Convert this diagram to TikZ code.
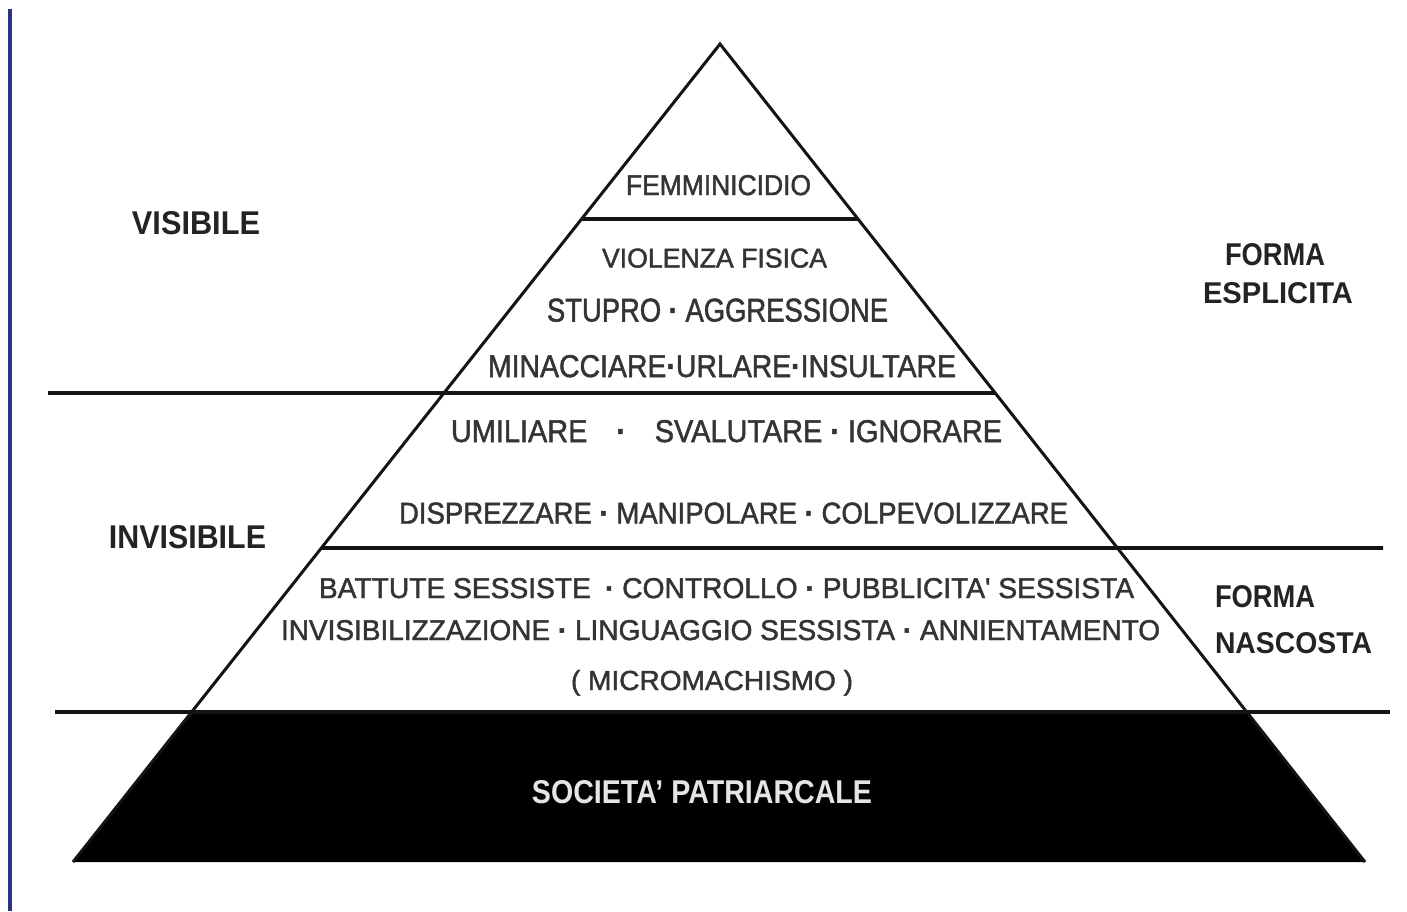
\documentclass[tikz,border=0pt]{standalone}
\usepackage{fontspec}
\setmainfont{Liberation Sans}
\newfontfamily\medfont[FakeBold=1.6]{Liberation Sans}
\usepackage{graphicx}
\usetikzlibrary{calc}
\definecolor{txtgray}{RGB}{52,52,52}
\definecolor{lblgray}{RGB}{35,35,35}
\definecolor{edgeblue}{RGB}{45,52,135}
\newcommand{\fitbox}[3]{\resizebox{#1pt}{#2pt}{#3}}
\newcommand{\sep}{\hbox{\textbf{·}}}
\begin{document}
\begin{tikzpicture}[x=1pt,y=-1pt,
  pyredge/.style={line width=3pt, black!92, line join=miter},
  cutline/.style={line width=3.6pt, black!92},
  lvltxt/.style={anchor=base, inner sep=0pt, text=txtgray, font=\medfont},
  sidetxt/.style={anchor=base, inner sep=0pt, text=lblgray, font=\bfseries},
  basetxt/.style={anchor=base, inner sep=0pt, text=white!90!black, font=\bfseries},
  frameline/.style={line width=4pt, edgeblue}]
\useasboundingbox (0,0) rectangle (1407,912);
\fill[white] (0,0) rectangle (1407,912);

% frame line on the left
\coordinate (ft) at (10,9);
\coordinate (fb) at (10,911);
\draw[frameline] (ft) -- (fb);

% pyramid corners
\coordinate (apex) at (720,44);
\coordinate (bl) at (73,862);
\coordinate (br) at (1365,862);

% cuts on the edges
\coordinate (c1l) at ($(apex)!0.2139!(bl)$);
\coordinate (c1r) at ($(apex)!0.2139!(br)$);
\coordinate (c2r) at ($(apex)!0.4267!(br)$);
\coordinate (c3l) at ($(apex)!0.6161!(bl)$);
\coordinate (c4l) at ($(apex)!0.8166!(bl)$);
\coordinate (c4r) at ($(apex)!0.8166!(br)$);
\coordinate (lv2) at (48,393);
\coordinate (rv3) at (1383,548);
\coordinate (lv4) at (55,712);
\coordinate (rv4) at (1390,712);

% black base
\fill[black] (c4l) -- (c4r) -- (br) -- (bl) -- cycle;

% outline and level lines
\draw[pyredge] (bl) -- (apex) -- (br);
\draw[cutline] (c1l) -- (c1r);
\draw[cutline] (lv2) -- (c2r);
\draw[cutline] (c3l) -- (rv3);
\draw[cutline] (lv4) -- (rv4);

% side labels
\node[sidetxt] (vis) at (196,234.5) {\fitbox{128}{23}{VISIBILE}};
\node[sidetxt] (invis) at (187.5,548.5) {\fitbox{157}{23}{INVISIBILE}};
\node[sidetxt] (forma1) at (1275,265) {\fitbox{100}{22}{FORMA}};
\node[sidetxt] (espl) at (1278,303) {\fitbox{150}{21}{ESPLICITA}};
\node[sidetxt] (forma2) at (1265,607) {\fitbox{100}{22}{FORMA}};
\node[sidetxt] (nasc) at (1293.5,653) {\fitbox{157}{21}{NASCOSTA}};

% pyramid texts
\node[lvltxt] (femm) at (718.5,195) {\fitbox{185}{20}{FEMMINICIDIO}};
\node[lvltxt] (viol) at (714.5,267.5) {\fitbox{225}{19}{VIOLENZA FISICA}};
\node[lvltxt] (stup) at (717.5,321.5) {\fitbox{341}{23}{STUPRO \sep{} AGGRESSIONE}};
\node[lvltxt] (mina) at (722,377) {\fitbox{468}{22}{MINACCIARE\sep URLARE\sep INSULTARE}};
\node[lvltxt] (umil) at (726.5,442) {\fitbox{551}{22}{UMILIARE\quad\sep\quad SVALUTARE \sep{} IGNORARE}};
\node[lvltxt] (disp) at (733.5,523.5) {\fitbox{669}{21}{DISPREZZARE \sep{} MANIPOLARE \sep{} COLPEVOLIZZARE}};
\node[lvltxt] (batt) at (726.5,598) {\fitbox{815}{20}{BATTUTE SESSISTE\enspace\sep{} CONTROLLO \sep{} PUBBLICITA' SESSISTA}};
\node[lvltxt] (invz) at (720.5,640) {\fitbox{879}{20}{INVISIBILIZZAZIONE \sep{} LINGUAGGIO SESSISTA \sep{} ANNIENTAMENTO}};
\node[lvltxt] (micro) at (712,690) {\fitbox{282}{20}{( MICROMACHISMO )}};
\node[basetxt] (soc) at (702,803.5) {\fitbox{340}{23}{SOCIETA' PATRIARCALE}};
\end{tikzpicture}
\end{document}
